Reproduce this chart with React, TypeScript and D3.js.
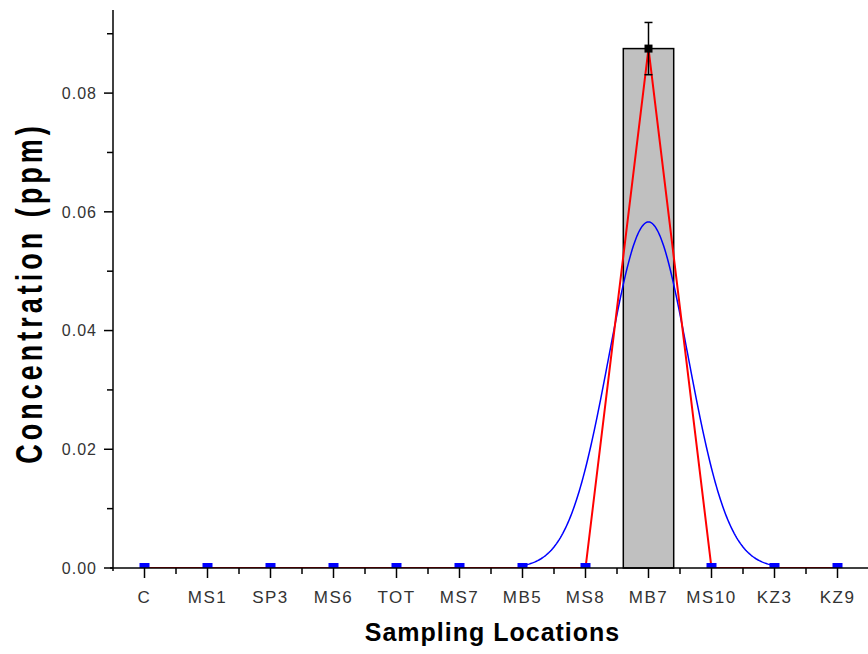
import React from 'react';
import * as d3 from 'd3';

const locations = ['C', 'MS1', 'SP3', 'MS6', 'TOT', 'MS7', 'MB5', 'MS8', 'MB7', 'MS10', 'KZ3', 'KZ9'];
const concentration = [0, 0, 0, 0, 0, 0, 0, 0, 0.0875, 0, 0, 0];
const errors = [0, 0, 0, 0, 0, 0, 0, 0, 0.0044, 0, 0, 0];
const yTicks = [0, 0.02, 0.04, 0.06, 0.08];
const yMinorTicks = [0.01, 0.03, 0.05, 0.07, 0.09];
// gaussian fit (in category index units)
const fitAmp = 0.0583;
const fitCenter = 8;
const fitSigma = 0.634;
const fitRange = [6.0, 10.0];

const W = 868, H = 654;
const left = 113, right = 869, top = 10, bottom = 568;
const font = '"Liberation Sans", Arial, sans-serif';

const App = () => {
  const x = d3.scaleLinear().domain([-0.5, locations.length - 0.5]).range([left, right]);
  const y = d3.scaleLinear().domain([0, 0.094]).range([bottom, top]);
  const barW = (x(1) - x(0)) * 0.8;

  const fitPts = d3.range(fitRange[0], fitRange[1] + 0.001, 0.02).map(t => [t, fitAmp * Math.exp(-((t - fitCenter) ** 2) / (2 * fitSigma ** 2))]);
  const fitLine = d3.line<number[]>().x(d => x(d[0])).y(d => y(d[1]));
  const redLine = d3.line<number>().x((d, i) => x(i)).y(d => y(d));

  const minorX = d3.range(0, locations.length).map(i => i + 0.5);

  return (
    <svg width={W} height={H} style={{position: 'absolute', left: 0, top: 0}} fontFamily={font}>
      <defs>
        <clipPath id="plot"><rect x={left} y={top} width={right - left} height={bottom - top} /></clipPath>
      </defs>
      <rect width={W} height={H} fill="white" />

      {concentration.map((v, i) => v > 0 && (
        <rect key={i} x={x(i) - barW / 2} y={y(v)} width={barW} height={y(0) - y(v)}
          fill="#c0c0c0" stroke="black" strokeWidth={1.5} />
      ))}

      <g clipPath="url(#plot)">
        <path d={fitLine(fitPts) || ''} fill="none" stroke="#0000ff" strokeWidth={1.5} />
        <path d={redLine(concentration) || ''} fill="none" stroke="#ff0000" strokeWidth={2} />
        {concentration.map((v, i) => v === 0 && (
          <rect key={i} x={x(i) - 5} y={y(v) - 5} width={10} height={10} fill="#0000ff" />
        ))}
      </g>

      {concentration.map((v, i) => v > 0 && (
        <g key={i} stroke="black" strokeWidth={1.5}>
          <line x1={x(i)} x2={x(i)} y1={y(v + errors[i])} y2={y(v - errors[i])} />
          <line x1={x(i) - 4} x2={x(i) + 4} y1={y(v + errors[i])} y2={y(v + errors[i])} />
          <line x1={x(i) - 4} x2={x(i) + 4} y1={y(v - errors[i])} y2={y(v - errors[i])} />
          <rect x={x(i) - 4} y={y(v) - 4} width={8} height={8} fill="black" stroke="none" />
        </g>
      ))}

      {/* axes */}
      <g stroke="black" strokeWidth={1.5}>
        <line x1={left} x2={left} y1={top} y2={bottom + 3} />
        <line x1={left - 3} x2={W} y1={bottom} y2={bottom} />
        {yTicks.map(t => <line key={t} x1={left - 9} x2={left} y1={y(t)} y2={y(t)} />)}
        {yMinorTicks.map(t => <line key={t} x1={left - 6} x2={left} y1={y(t)} y2={y(t)} />)}
        {locations.map((l, i) => <line key={l} x1={x(i)} x2={x(i)} y1={bottom} y2={bottom + 10} />)}
        {minorX.map(t => <line key={t} x1={x(t)} x2={x(t)} y1={bottom} y2={bottom + 6} />)}
      </g>

      {yTicks.map(t => (
        <text key={t} x={left - 16} y={y(t)} dy="0.36em" textAnchor="end" fontSize={16} letterSpacing={1} fill="#333">
          {d3.format('.2f')(t)}
        </text>
      ))}
      {locations.map((l, i) => (
        <text key={l} x={x(i)} y={bottom + 35} textAnchor="middle" fontSize={17} letterSpacing={1.5} fill="#333">{l}</text>
      ))}

      <text x={(363 + 622) / 2} y={641} textAnchor="middle" fontSize={25} fontWeight="bold" letterSpacing={1}>Sampling Locations</text>
      <text transform="translate(42,293) rotate(-90) scale(1,1.4)" textAnchor="middle" fontSize={27} fontWeight="bold" letterSpacing={4}>Concentration (ppm)</text>
    </svg>
  );
};

export default App;
